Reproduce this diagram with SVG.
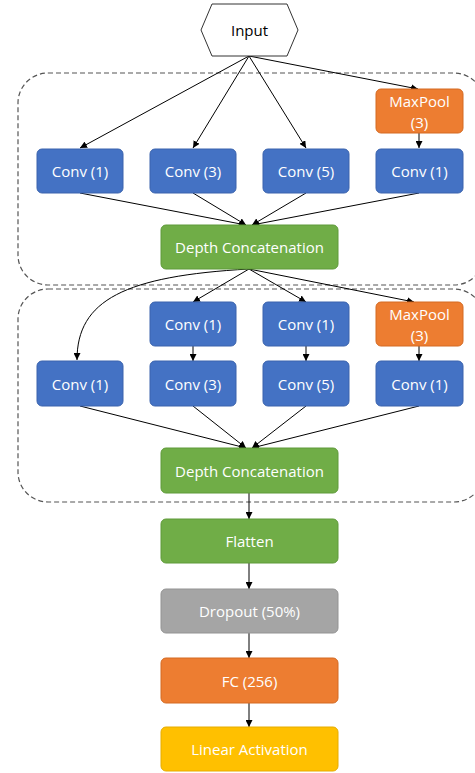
<svg xmlns="http://www.w3.org/2000/svg" width="475" height="773" viewBox="0 0 475 773">
<style>
text{font-family:"Open Sans","Liberation Sans",sans-serif;font-size:15px;fill:#ffffff;text-anchor:middle;dominant-baseline:central}
.b{fill:#4472C4;stroke:#3A63AD;stroke-width:1}
.o{fill:#ED7D31;stroke:#D46A22;stroke-width:1}
.g{fill:#70AD47;stroke:#5F9A3A;stroke-width:1}
.gr{fill:#A5A5A5;stroke:#939393;stroke-width:1}
.y{fill:#FFC000;stroke:#E6AC00;stroke-width:1}
.grp{fill:none;stroke:#555;stroke-width:1.2;stroke-dasharray:5,3}
#edges path,#edges line{stroke:#000;stroke-width:1;fill:none;marker-end:url(#ah)}
</style>
<defs>
<marker id="ah" viewBox="0 0 10 10" refX="10" refY="5" markerWidth="7" markerHeight="7" orient="auto" markerUnits="userSpaceOnUse">
<path d="M0,0 L10,5 L0,10 z" fill="#000"/>
</marker>
</defs>
<rect class="grp" x="18" y="73" width="466" height="212" rx="30"/>
<rect class="grp" x="18" y="289" width="466" height="213" rx="30"/>
<g id="edges">
<line x1="249" y1="56" x2="80" y2="148"/>
<line x1="249" y1="56" x2="193" y2="148"/>
<line x1="249" y1="56" x2="306" y2="148"/>
<line x1="249" y1="56" x2="418" y2="89"/>
<line x1="419" y1="133" x2="419" y2="148"/>
<line x1="80" y1="193" x2="246" y2="225"/>
<line x1="193" y1="193" x2="246" y2="225"/>
<line x1="306" y1="193" x2="252" y2="225"/>
<line x1="419" y1="193" x2="252" y2="225"/>
<path d="M249,269 C125,276 77,300 77,360"/>
<line x1="249" y1="269" x2="193" y2="302"/>
<line x1="249" y1="269" x2="306" y2="302"/>
<line x1="249" y1="269" x2="414" y2="302"/>
<line x1="193" y1="346" x2="193" y2="361"/>
<line x1="306" y1="346" x2="306" y2="361"/>
<line x1="419" y1="346" x2="419" y2="361"/>
<line x1="80" y1="406" x2="246" y2="448"/>
<line x1="193" y1="406" x2="246" y2="448"/>
<line x1="306" y1="406" x2="252" y2="448"/>
<line x1="419" y1="406" x2="252" y2="448"/>
<line x1="249" y1="493" x2="249" y2="519"/>
<line x1="249" y1="563" x2="249" y2="589"/>
<line x1="249" y1="633" x2="249" y2="658"/>
<line x1="249" y1="703" x2="249" y2="727"/>
</g>
<g id="input"><polygon points="201,30 212,4 287,4 298,30 287,56 212,56" fill="#fff" stroke="#333" stroke-width="1"/><text x="249.5" y="30" style="fill:#000">Input</text></g>
<g id="maxpool1"><rect class="o" x="376" y="89" width="87" height="44" rx="5"/><text x="419.5" y="101">MaxPool</text><text x="419.5" y="122">(3)</text></g>
<g id="conv1a"><rect class="b" x="37" y="149" width="86" height="44" rx="5"/><text x="80" y="171">Conv (1)</text></g>
<g id="conv3a"><rect class="b" x="150" y="149" width="86" height="44" rx="5"/><text x="193" y="171">Conv (3)</text></g>
<g id="conv5a"><rect class="b" x="263" y="149" width="86" height="44" rx="5"/><text x="306" y="171">Conv (5)</text></g>
<g id="conv1b"><rect class="b" x="376" y="149" width="87" height="44" rx="5"/><text x="419.5" y="171">Conv (1)</text></g>
<g id="concat1"><rect class="g" x="161" y="225" width="177" height="44" rx="5"/><text x="249.5" y="247">Depth Concatenation</text></g>
<g id="conv1c"><rect class="b" x="150" y="302" width="86" height="44" rx="5"/><text x="193" y="324">Conv (1)</text></g>
<g id="conv1d"><rect class="b" x="263" y="302" width="86" height="44" rx="5"/><text x="306" y="324">Conv (1)</text></g>
<g id="maxpool2"><rect class="o" x="376" y="302" width="87" height="44" rx="5"/><text x="419.5" y="314">MaxPool</text><text x="419.5" y="335">(3)</text></g>
<g id="conv1e"><rect class="b" x="37" y="361" width="86" height="45" rx="5"/><text x="80" y="383.5">Conv (1)</text></g>
<g id="conv3b"><rect class="b" x="150" y="361" width="86" height="45" rx="5"/><text x="193" y="383.5">Conv (3)</text></g>
<g id="conv5b"><rect class="b" x="263" y="361" width="86" height="45" rx="5"/><text x="306" y="383.5">Conv (5)</text></g>
<g id="conv1f"><rect class="b" x="376" y="361" width="87" height="45" rx="5"/><text x="419.5" y="383.5">Conv (1)</text></g>
<g id="concat2"><rect class="g" x="161" y="448" width="177" height="45" rx="5"/><text x="249.5" y="470.5">Depth Concatenation</text></g>
<g id="flatten"><rect class="g" x="161" y="519" width="177" height="44" rx="5"/><text x="249.5" y="541">Flatten</text></g>
<g id="dropout"><rect class="gr" x="161" y="589" width="177" height="44" rx="5"/><text x="249.5" y="611">Dropout (50%)</text></g>
<g id="fc"><rect class="o" x="161" y="658" width="177" height="45" rx="5"/><text x="249.5" y="680.5">FC (256)</text></g>
<g id="linear"><rect class="y" x="161" y="727" width="177" height="44" rx="5"/><text x="249.5" y="749">Linear Activation</text></g>
</svg>
